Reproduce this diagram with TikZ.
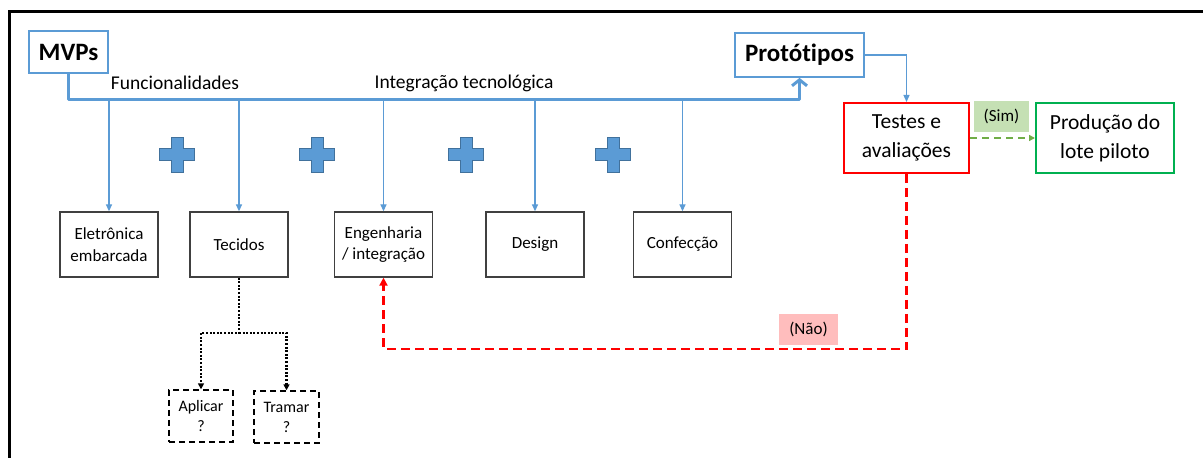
\documentclass[tikz,border=0pt]{standalone}
\usepackage{fontspec}
\setmainfont[Ligatures=NoCommon]{Carlito}
\usetikzlibrary{arrows.meta}

\begin{document}
\begin{tikzpicture}[x=1pt,y=1pt,
  box/.style={draw=boxColor,line width=1.3pt,minimum width=98pt,minimum height=65pt,
    inner sep=0pt,align=center,font=\fontsize{17}{21.5}\selectfont},
  askbox/.style={draw=black,line width=1.4pt,dash pattern=on 6pt off 4pt,minimum width=64pt,
    minimum height=52pt,inner sep=0pt,align=center,font=\fontsize{16}{20}\selectfont},
  headbox/.style={draw=busColor,line width=1.8pt,inner sep=0pt,font=\bfseries\fontsize{25}{30}\selectfont},
  stagebox/.style={line width=2pt,minimum width=125pt,minimum height=70pt,inner sep=0pt,
    align=center,font=\fontsize{21.5}{29}\selectfont},
  busline/.style={draw=busColor,line width=3pt},
  feed/.style={draw=busColor,line width=1.3pt,-{Triangle[length=7pt,width=6pt]}},
  tie/.style={draw=black,line width=2.4pt,dash pattern=on 2pt off 1.6pt,-{Triangle[length=6pt,width=6pt]}},
  answer/.style={inner sep=0pt,font=\fontsize{17}{20}\selectfont},
  plus/.style={fill=busColor,draw=plusColor,line width=1pt}]
\definecolor{busColor}{RGB}{91,155,213}
\definecolor{plusColor}{RGB}{65,113,156}
\definecolor{boxColor}{gray}{0.25}
\definecolor{testColor}{RGB}{255,0,0}
\definecolor{prodColor}{RGB}{0,176,80}
\definecolor{simDash}{RGB}{112,173,71}
\definecolor{simFill}{RGB}{197,224,180}
\definecolor{naoFill}{RGB}{255,189,189}
\path[use as bounding box] (0,0) rectangle (1203,458);

% frame
\draw[line width=2.5pt] (9.5,0) -- (9.5,446.5) -- (1203,446.5);

% top row
\node[headbox,minimum width=79pt,minimum height=42pt] (mvps) at (68.5,406) {MVPs};
\node[headbox,minimum width=129pt,minimum height=44pt] (prot) at (799.5,403) {Protótipos};
\node[stagebox,draw=testColor] (test) at (906.5,320) {Testes e\\avaliações};
\node[stagebox,draw=prodColor,minimum width=138pt] (prod) at (1105,320) {Produção do\\lote piloto};
\coordinate (bus) at (0,358);
\node[font=\fontsize{19.5}{23}\selectfont,inner sep=0pt] (funlbl) at (175,375) {Funcionalidades};
\node[font=\fontsize{19.5}{23}\selectfont,inner sep=0pt] (intlbl) at (464,375) {Integração tecnológica};

% areas
\node[box] (elet) at (109,213.5) {Eletrônica\\embarcada};
\node[box] (tec) at (239,213.5) {Tecidos};
\node[box] (eng) at (383.5,213.5) {Engenharia\\/ integração};
\node[box] (des) at (535,213.5) {Design};
\node[box] (conf) at (682.5,213.5) {Confecção};
\node[askbox] (apl) at (201,42) {Aplicar\\?};
\node[askbox,minimum width=65pt] (tra) at (286.5,41) {Tramar\\?};

% plus signs
\foreach \px in {177,317,466,613}
  \draw[plus,shift={(\px,303)}] (-6,17.5) -- (6,17.5) -- (6,6) -- (17.5,6) -- (17.5,-6) -- (6,-6)
    -- (6,-17.5) -- (-6,-17.5) -- (-6,-6) -- (-17.5,-6) -- (-17.5,6) -- (-6,6) -- cycle;

% bus
\draw[busline,line join=round,-{Straight Barb[length=6pt,width=15pt]}]
  (mvps.south) -- (mvps.south |- bus) -- (prot.south |- bus) -- (prot.south);
\foreach \n in {elet,tec,eng,des,conf}
  \draw[feed] (\n.north |- bus) -- (\n.north);
\draw[feed] (prot.east) -| (test.north);

% results
\draw[draw=simDash,line width=2pt,dash pattern=on 7pt off 5pt,-{Triangle[length=6pt,width=6pt]}]
  (test.east) -- (prod.west);
\node[answer,fill=simFill,minimum width=55pt,minimum height=31pt] (sim) at (1001.5,341.5) {(Sim)};
\coordinate (back) at (0,109);
\draw[draw=testColor,line width=2.5pt,dash pattern=on 9pt off 5pt,-{Triangle[length=8pt,width=8pt]}]
  (test.south) -- (test.south |- back) -| (eng.south);
\node[answer,fill=naoFill,minimum width=59pt,minimum height=31pt] (nao) at (808.5,128.5) {(Não)};

% tecidos split
\coordinate (split) at (0,125);
\draw[tie] (tec.south) -- (tec.south |- split) -| (apl.north);
\draw[tie] (tec.south |- split) -| (tra.north);
\end{tikzpicture}
\end{document}
